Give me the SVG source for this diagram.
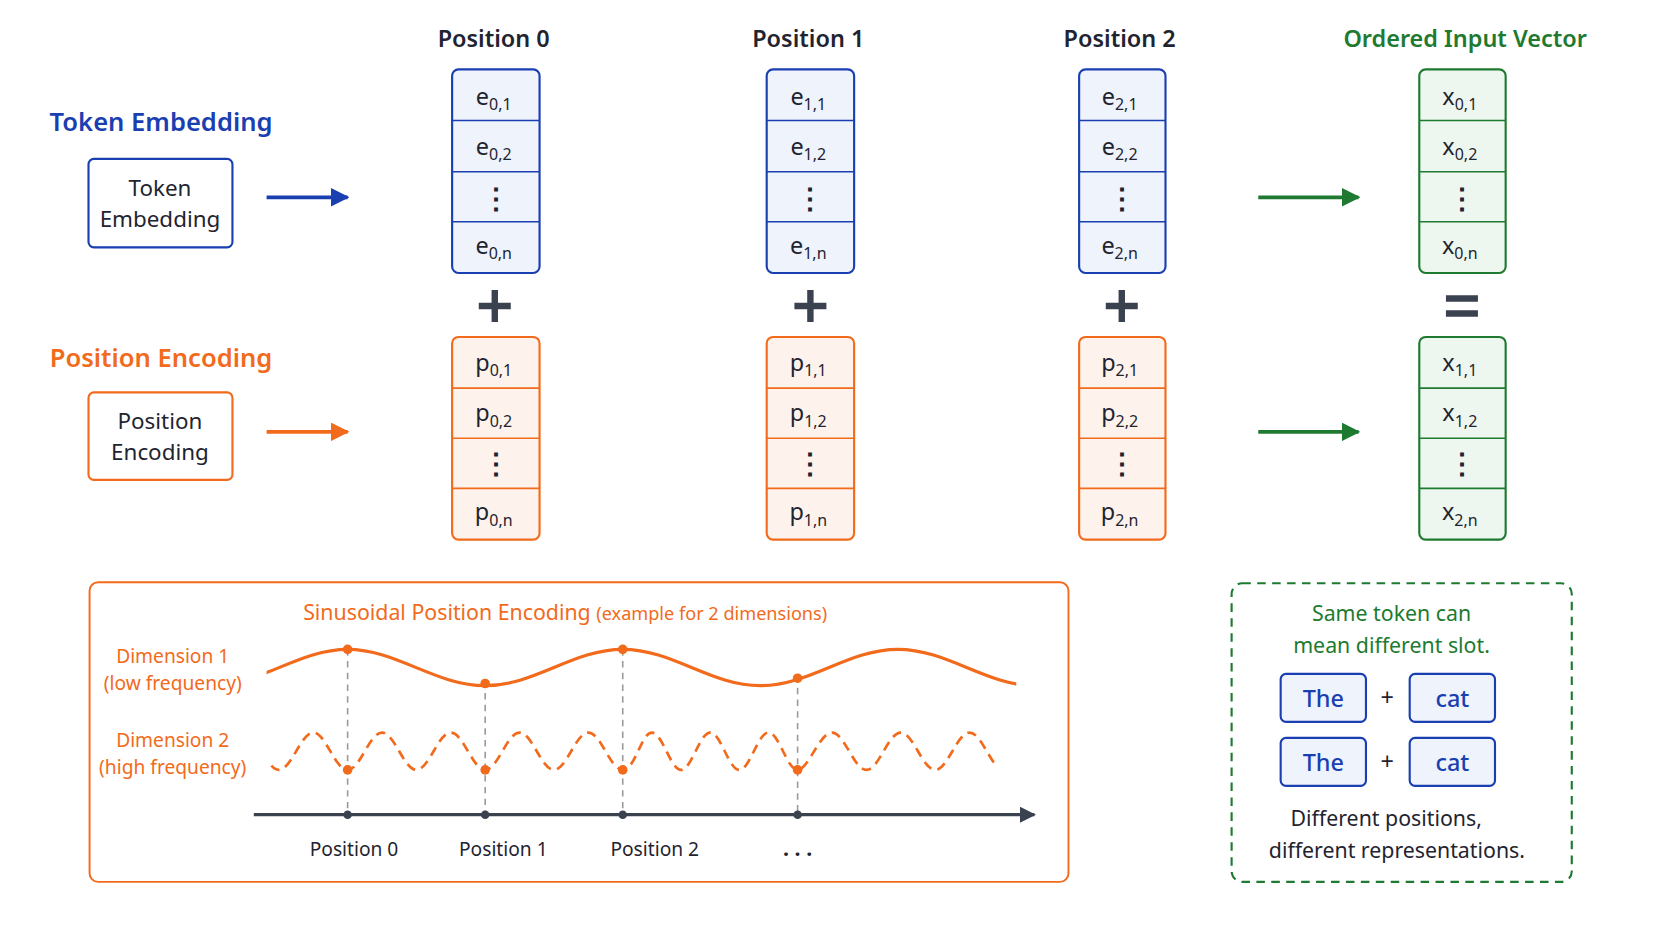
<svg xmlns="http://www.w3.org/2000/svg" width="1672" height="941" viewBox="0 0 1672 941">
<defs>
<style>
text{font-family:"Noto Sans","Open Sans","Liberation Sans",sans-serif;fill:#1f2430;text-anchor:middle}
.hdr{font-size:22px;font-weight:600}
.cellB{fill:#eef3fc;stroke:#1a3fb0;stroke-width:2}
.cellO{fill:#fdf3ec;stroke:#f26a1b;stroke-width:2}
.cellG{fill:#eef7ef;stroke:#1e7a30;stroke-width:2}
.div{stroke-width:1.5}
.v{font-size:22px}
.d{font-size:26px;font-weight:700}
.s{font-size:15px}
.op{stroke:#3a4250;stroke-width:6}
.lab{font-size:18px;fill:#f26a1b}
.vd{stroke:#9a9a9a;stroke-width:1.5;stroke-dasharray:6 5}
</style>
<marker id="aB" viewBox="0 0 10 10" refX="9" refY="5" markerWidth="5" markerHeight="5" orient="auto"><path d="M0,0L10,5L0,10z" fill="#1a3fb0"/></marker>
<marker id="aO" viewBox="0 0 10 10" refX="9" refY="5" markerWidth="5" markerHeight="5" orient="auto"><path d="M0,0L10,5L0,10z" fill="#f26a1b"/></marker>
<marker id="aG" viewBox="0 0 10 10" refX="9" refY="5" markerWidth="5" markerHeight="5" orient="auto"><path d="M0,0L10,5L0,10z" fill="#1e7a30"/></marker>
<marker id="aK" viewBox="0 0 10 10" refX="9" refY="5" markerWidth="5" markerHeight="5" orient="auto"><path d="M0,0L10,5L0,10z" fill="#3a4250"/></marker>
<clipPath id="c1"><rect x="250" y="590" width="703" height="70"/></clipPath>
<clipPath id="c2"><rect x="252" y="670" width="683" height="70"/></clipPath>
</defs>
<rect width="1672" height="941" fill="#ffffff"/>
<g transform="scale(1.06633)">
<g id="headers">
<text class="hdr" x="463" y="44">Position 0</text>
<text class="hdr" x="758" y="44">Position 1</text>
<text class="hdr" x="1050" y="44">Position 2</text>
<text class="hdr" x="1374" y="44" style="fill:#1e7a30">Ordered Input Vector</text>
</g>
<g id="token-embedding">
<text x="151" y="123" style="font-size:24px;font-weight:600;fill:#1a3fb0">Token Embedding</text>
<rect x="83" y="149" width="135" height="83" rx="5" fill="#fff" stroke="#1a3fb0" stroke-width="2"/>
<text x="150" y="184" style="font-size:21px">Token</text>
<text x="150" y="213" style="font-size:21px">Embedding</text>
</g>
<g id="position-encoding">
<text x="151" y="344" style="font-size:24px;font-weight:600;fill:#f26a1b">Position Encoding</text>
<rect x="83" y="368" width="135" height="82" rx="5" fill="#fff" stroke="#f26a1b" stroke-width="2"/>
<text x="150" y="402" style="font-size:21px">Position</text>
<text x="150" y="431" style="font-size:21px">Encoding</text>
</g>
<g id="connectors" stroke-width="3.5" fill="none">
<line x1="250" y1="185" x2="326" y2="185" stroke="#1a3fb0" marker-end="url(#aB)"/>
<line x1="250" y1="405" x2="326" y2="405" stroke="#f26a1b" marker-end="url(#aO)"/>
<line x1="1180" y1="185" x2="1274" y2="185" stroke="#1e7a30" marker-end="url(#aG)"/>
<line x1="1180" y1="405" x2="1274" y2="405" stroke="#1e7a30" marker-end="url(#aG)"/>
</g>
<g id="e0">
<rect class="cellB" x="424" y="65" width="82" height="191" rx="6"/>
<g stroke="#1a3fb0" class="div"><line x1="424" y1="113" x2="506" y2="113"/><line x1="424" y1="161" x2="506" y2="161"/><line x1="424" y1="208" x2="506" y2="208"/></g>
<text class="v" x="463" y="98">e<tspan class="s" dy="5">0,1</tspan></text>
<text class="v" x="463" y="145">e<tspan class="s" dy="5">0,2</tspan></text>
<text class="d" x="465" y="195">⋮</text>
<text class="v" x="463" y="238">e<tspan class="s" dy="5">0,n</tspan></text>
</g>
<g id="e1">
<rect class="cellB" x="719" y="65" width="82" height="191" rx="6"/>
<g stroke="#1a3fb0" class="div"><line x1="719" y1="113" x2="801" y2="113"/><line x1="719" y1="161" x2="801" y2="161"/><line x1="719" y1="208" x2="801" y2="208"/></g>
<text class="v" x="758" y="98">e<tspan class="s" dy="5">1,1</tspan></text>
<text class="v" x="758" y="145">e<tspan class="s" dy="5">1,2</tspan></text>
<text class="d" x="760" y="195">⋮</text>
<text class="v" x="758" y="238">e<tspan class="s" dy="5">1,n</tspan></text>
</g>
<g id="e2">
<rect class="cellB" x="1012" y="65" width="81" height="191" rx="6"/>
<g stroke="#1a3fb0" class="div"><line x1="1012" y1="113" x2="1093" y2="113"/><line x1="1012" y1="161" x2="1093" y2="161"/><line x1="1012" y1="208" x2="1093" y2="208"/></g>
<text class="v" x="1050" y="98">e<tspan class="s" dy="5">2,1</tspan></text>
<text class="v" x="1050" y="145">e<tspan class="s" dy="5">2,2</tspan></text>
<text class="d" x="1052" y="195">⋮</text>
<text class="v" x="1050" y="238">e<tspan class="s" dy="5">2,n</tspan></text>
</g>
<g id="x0">
<rect class="cellG" x="1331" y="65" width="81" height="191" rx="6"/>
<g stroke="#1e7a30" class="div"><line x1="1331" y1="113" x2="1412" y2="113"/><line x1="1331" y1="161" x2="1412" y2="161"/><line x1="1331" y1="208" x2="1412" y2="208"/></g>
<text class="v" x="1369" y="98">x<tspan class="s" dy="5">0,1</tspan></text>
<text class="v" x="1369" y="145">x<tspan class="s" dy="5">0,2</tspan></text>
<text class="d" x="1371" y="195">⋮</text>
<text class="v" x="1369" y="238">x<tspan class="s" dy="5">0,n</tspan></text>
</g>
<g id="p0">
<rect class="cellO" x="424" y="316" width="82" height="190" rx="6"/>
<g stroke="#f26a1b" class="div"><line x1="424" y1="364" x2="506" y2="364"/><line x1="424" y1="411" x2="506" y2="411"/><line x1="424" y1="458" x2="506" y2="458"/></g>
<text class="v" x="463" y="348">p<tspan class="s" dy="5">0,1</tspan></text>
<text class="v" x="463" y="395">p<tspan class="s" dy="5">0,2</tspan></text>
<text class="d" x="465" y="444">⋮</text>
<text class="v" x="463" y="488">p<tspan class="s" dy="5">0,n</tspan></text>
</g>
<g id="p1">
<rect class="cellO" x="719" y="316" width="82" height="190" rx="6"/>
<g stroke="#f26a1b" class="div"><line x1="719" y1="364" x2="801" y2="364"/><line x1="719" y1="411" x2="801" y2="411"/><line x1="719" y1="458" x2="801" y2="458"/></g>
<text class="v" x="758" y="348">p<tspan class="s" dy="5">1,1</tspan></text>
<text class="v" x="758" y="395">p<tspan class="s" dy="5">1,2</tspan></text>
<text class="d" x="760" y="444">⋮</text>
<text class="v" x="758" y="488">p<tspan class="s" dy="5">1,n</tspan></text>
</g>
<g id="p2">
<rect class="cellO" x="1012" y="316" width="81" height="190" rx="6"/>
<g stroke="#f26a1b" class="div"><line x1="1012" y1="364" x2="1093" y2="364"/><line x1="1012" y1="411" x2="1093" y2="411"/><line x1="1012" y1="458" x2="1093" y2="458"/></g>
<text class="v" x="1050" y="348">p<tspan class="s" dy="5">2,1</tspan></text>
<text class="v" x="1050" y="395">p<tspan class="s" dy="5">2,2</tspan></text>
<text class="d" x="1052" y="444">⋮</text>
<text class="v" x="1050" y="488">p<tspan class="s" dy="5">2,n</tspan></text>
</g>
<g id="x1">
<rect class="cellG" x="1331" y="316" width="81" height="190" rx="6"/>
<g stroke="#1e7a30" class="div"><line x1="1331" y1="364" x2="1412" y2="364"/><line x1="1331" y1="411" x2="1412" y2="411"/><line x1="1331" y1="458" x2="1412" y2="458"/></g>
<text class="v" x="1369" y="348">x<tspan class="s" dy="5">1,1</tspan></text>
<text class="v" x="1369" y="395">x<tspan class="s" dy="5">1,2</tspan></text>
<text class="d" x="1371" y="444">⋮</text>
<text class="v" x="1369" y="488">x<tspan class="s" dy="5">2,n</tspan></text>
</g>
<g id="operators">
<path class="op" d="M449,287H479M464,272V302M745,287H775M760,272V302M1037,287H1067M1052,272V302"/>
<path class="op" d="M1356,280H1386M1356,294H1386"/>
</g>
<g id="sinusoidal">
<rect x="84" y="546" width="918" height="281" rx="8" fill="#fff" stroke="#f26a1b" stroke-width="1.8"/>
<text x="530" y="581" style="font-size:20px;fill:#f26a1b">Sinusoidal Position Encoding <tspan style="font-size:17px">(example for 2 dimensions)</tspan></text>
<text class="lab" x="162" y="622">Dimension 1</text>
<text class="lab" x="162" y="647">(low frequency)</text>
<text class="lab" x="162" y="701">Dimension 2</text>
<text class="lab" x="162" y="726">(high frequency)</text>
<g class="vd"><line x1="326" y1="609" x2="326" y2="764"/><line x1="455" y1="639" x2="455" y2="764"/><line x1="584" y1="609" x2="584" y2="764"/><line x1="748" y1="634" x2="748" y2="764"/></g>
<path clip-path="url(#c1)" fill="none" stroke="#f26a1b" stroke-width="3" d="M197,643 C243.98,643 280.02,609 326,609 S408.02,643 455,643 S537.02,609 584,609 S666.02,643 713,643 S795.02,609 842,609 S924.02,643 971,643"/>
<path clip-path="url(#c2)" fill="none" stroke="#f26a1b" stroke-width="2.5" stroke-dasharray="9 6" d="M197,722 C208.75,722 217.5,687 229.25,687 S249.75,722 261.5,722 S282.25,687 293.75,687 S314.25,722 326,722 S346.5,687 358.25,687 S378.75,722 390.5,722 S411,687 422.75,687 S443.25,722 455,722 S475.5,687 487.25,687 S507.75,722 519.5,722 S540,687 551.75,687 S572.25,722 584,722 S601.38,687 611.33,687 S628.72,722 638.67,722 S656.05,687 666,687 S683.38,722 693.33,722 S710.72,687 720.67,687 S738.05,722 748,722 S768.5,687 780.25,687 S800.75,722 812.5,722 S833,687 844.75,687 S865.25,722 877,722 S897.5,687 909.25,687 S929.75,722 941.5,722"/>
<g fill="#f26a1b"><circle cx="326" cy="609" r="4.5"/><circle cx="455" cy="641" r="4.5"/><circle cx="584" cy="609" r="4.5"/><circle cx="748" cy="636" r="4.5"/>
<circle cx="326" cy="722" r="4.5"/><circle cx="455" cy="722" r="4.5"/><circle cx="584" cy="722" r="4.5"/><circle cx="748" cy="722" r="4.5"/></g>
<line x1="238" y1="764" x2="970" y2="764" stroke="#3a4250" stroke-width="3" marker-end="url(#aK)"/>
<g fill="#3a4250"><circle cx="326" cy="764" r="4"/><circle cx="455" cy="764" r="4"/><circle cx="584" cy="764" r="4"/><circle cx="748" cy="764" r="4"/></g>
<text x="332" y="803" style="font-size:18px">Position 0</text>
<text x="472" y="803" style="font-size:18px">Position 1</text>
<text x="614" y="803" style="font-size:18px">Position 2</text>
<text x="748" y="803" style="font-size:20px;font-weight:700">. . .</text>
</g>
<g id="note">
<rect x="1155" y="547" width="319" height="280" rx="10" fill="#fff" stroke="#1e7a30" stroke-width="2" stroke-dasharray="8 6"/>
<text x="1305" y="582" style="font-size:20px;fill:#1e7a30">Same token can</text>
<text x="1305" y="612" style="font-size:20px;fill:#1e7a30">mean different slot.</text>
<g fill="#eef3fc" stroke="#1a3fb0" stroke-width="2">
<rect x="1201" y="632" width="80" height="45" rx="5"/><rect x="1322" y="632" width="80" height="45" rx="5"/>
<rect x="1201" y="692" width="80" height="45" rx="5"/><rect x="1322" y="692" width="80" height="45" rx="5"/>
</g>
<text x="1241" y="663" style="font-size:22px;font-weight:500;fill:#1a3fb0">The</text>
<text x="1362" y="663" style="font-size:22px;font-weight:500;fill:#1a3fb0">cat</text>
<text x="1241" y="723" style="font-size:22px;font-weight:500;fill:#1a3fb0">The</text>
<text x="1362" y="723" style="font-size:22px;font-weight:500;fill:#1a3fb0">cat</text>
<text x="1301" y="662" style="font-size:22px">+</text>
<text x="1301" y="722" style="font-size:22px">+</text>
<text x="1300" y="775" style="font-size:20px">Different positions,</text>
<text x="1310" y="805" style="font-size:20px">different representations.</text>
</g>
</g>
</svg>
